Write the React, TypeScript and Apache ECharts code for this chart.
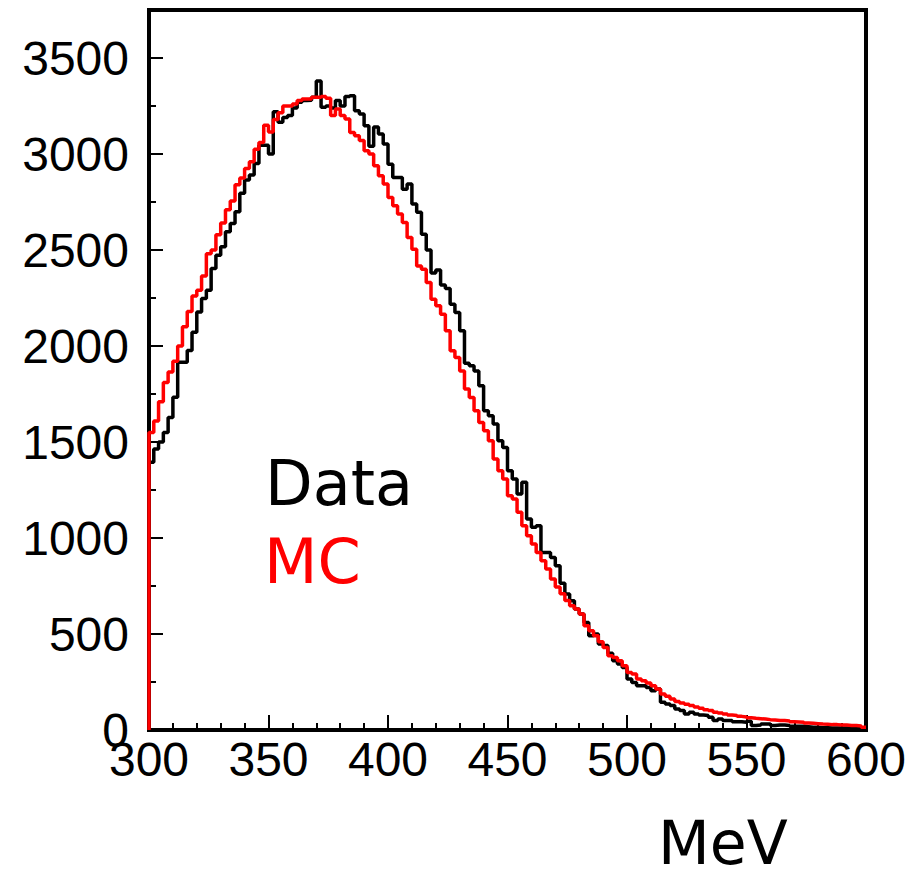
import React, { useEffect, useRef } from "react";
import * as echarts from "echarts";

// Histogram binning (MeV)
const BIN_START = 300;
const BIN_WIDTH = 2;

// Data (black) bin contents, 150 bins of 2 MeV from 300 to 600
const dataCounts = [
  1395, 1463, 1500, 1550, 1628, 1733, 1915, 1915, 1976, 2072,
  2177, 2247, 2290, 2403, 2473, 2517, 2595, 2638, 2699, 2795,
  2865, 2890, 2950, 3046, 3046, 3000, 3220, 3165, 3190, 3200,
  3240, 3270, 3278, 3280, 3295, 3380, 3243, 3250, 3240, 3278,
  3250, 3300, 3304, 3225, 3208, 3147, 3040, 3140, 3104, 3052,
  2947, 2878, 2878, 2817, 2844, 2739, 2696, 2582, 2500, 2380,
  2396, 2318, 2300, 2218, 2175, 2079, 1910, 1897, 1870, 1793,
  1663, 1637, 1594, 1507, 1472, 1350, 1307, 1229, 1290, 1099,
  1056, 1064, 925, 925, 899, 856, 764, 708, 673, 630,
  604, 560, 491, 500, 448, 440, 400, 361, 344, 326,
  266, 248, 231, 231, 222, 205, 214, 144, 136, 127,
  110, 101, 83, 92, 83, 78, 75, 66, 49, 57,
  49, 49, 43, 43, 40, 45, 23, 26, 31, 31,
  23, 26, 26, 23, 19, 19, 19, 17, 14, 14,
  12, 12, 11, 11, 10, 10, 9, 9, 8, 8,
];

// MC (red) bin contents
const mcCounts = [
  1550, 1610, 1710, 1810, 1865, 1920, 2000, 2100, 2180, 2260,
  2290, 2365, 2480, 2500, 2580, 2640, 2710, 2755, 2840, 2875,
  2925, 2960, 3025, 3060, 3150, 3115, 3180, 3215, 3250, 3250,
  3260, 3278, 3286, 3286, 3295, 3295, 3300, 3290, 3200, 3234,
  3200, 3182, 3112, 3095, 3070, 3017, 3000, 2939, 2887, 2844,
  2774, 2730, 2687, 2643, 2565, 2504, 2417, 2400, 2331, 2244,
  2210, 2166, 2079, 1975, 1940, 1870, 1776, 1732, 1663, 1602,
  1558, 1507, 1411, 1350, 1307, 1220, 1203, 1134, 1064, 1012,
  969, 925, 882, 839, 787, 745, 710, 675, 647, 630,
  604, 543, 517, 491, 460, 430, 387, 378, 361, 335,
  300, 292, 266, 257, 245, 231, 214, 188, 176, 162,
  148, 141, 134, 127, 120, 113, 106, 101, 92, 88,
  83, 78, 75, 71, 68, 64, 61, 59, 57, 54,
  52, 50, 49, 47, 43, 42, 40, 36, 35, 33,
  31, 30, 28, 28, 26, 26, 24, 23, 21, 14,
];

const legendLabels = ["Data", "MC"];
const unitLabel = "MeV";

function toSteps(counts: number[]): number[][] {
  const pts: number[][] = [[BIN_START, 0]];
  counts.forEach((v, i) => pts.push([BIN_START + i * BIN_WIDTH, v]));
  pts.push([BIN_START + counts.length * BIN_WIDTH, counts[counts.length - 1]]);
  return pts;
}

const labelFont = "Liberation Sans, Arial, Helvetica, sans-serif";

export default function App() {
  const ref = useRef<HTMLDivElement>(null);
  useEffect(() => {
    if (!ref.current) return;
    const chart = echarts.init(ref.current, null, { renderer: "svg" });
    chart.setOption({
      animation: false,
      backgroundColor: "#fff",
      grid: {
        left: 149,
        right: 51,
        top: 10,
        bottom: 144,
        show: true,
        borderColor: "#000",
        borderWidth: 4,
      },
      xAxis: {
        type: "value",
        min: 300,
        max: 600,
        interval: 50,
        axisLine: { show: true, lineStyle: { color: "#000", width: 4 } },
        axisTick: { show: true, inside: true, length: 15, lineStyle: { color: "#000", width: 2 } },
        minorTick: { show: true, splitNumber: 5, length: 7, lineStyle: { color: "#000", width: 2 } },
        splitLine: { show: false },
        axisLabel: { color: "#000", fontSize: 48, fontFamily: labelFont, margin: 5 },
      },
      yAxis: [
        {
          type: "value",
          min: 0,
          max: 3750,
          interval: 500,
          position: "left",
          axisLine: { show: true, lineStyle: { color: "#000", width: 4 } },
          axisTick: { show: true, inside: true, length: 14, lineStyle: { color: "#000", width: 2 } },
          splitLine: { show: false },
          axisLabel: {
            color: "#000",
            fontSize: 48,
            fontFamily: labelFont,
            margin: 20,
            showMaxLabel: false,
            formatter: (v: number) => (v % 500 === 0 ? String(v) : ""),
          },
        },
        {
          type: "value",
          min: 0,
          max: 3750,
          interval: 250,
          position: "left",
          axisLine: { show: false },
          axisTick: { show: true, inside: true, length: 7, lineStyle: { color: "#000", width: 2 } },
          splitLine: { show: false },
          axisLabel: { show: false },
        },
      ],
      series: [
        {
          name: legendLabels[0],
          type: "line",
          step: "end",
          showSymbol: false,
          symbol: "none",
          data: toSteps(dataCounts),
          lineStyle: { color: "#000", width: 3.5 },
          itemStyle: { color: "#000" },
          z: 2,
        },
        {
          name: legendLabels[1],
          type: "line",
          step: "end",
          showSymbol: false,
          symbol: "none",
          data: toSteps(mcCounts),
          lineStyle: { color: "#ff0000", width: 3.5 },
          itemStyle: { color: "#ff0000" },
          z: 3,
        },
      ],
      graphic: [
        {
          type: "text",
          x: 265,
          y: 483,
          style: { text: legendLabels[0], fill: "#000", fontSize: 62, lineHeight: 50, fontFamily: "DejaVu Sans", align: "left", verticalAlign: "middle" },
        },
        {
          type: "text",
          x: 264,
          y: 561,
          style: { text: legendLabels[1], fill: "#ff0000", fontSize: 62, lineHeight: 50, fontFamily: "DejaVu Sans", align: "left", verticalAlign: "middle" },
        },
        {
          type: "text",
          x: 658,
          y: 843,
          style: { text: unitLabel, fill: "#000", fontSize: 60, lineHeight: 48, fontFamily: "DejaVu Sans", align: "left", verticalAlign: "middle" },
        },
      ],
    });
    return () => chart.dispose();
  }, []);
  return <div ref={ref} style={{ position: "absolute", left: 0, top: 0, width: 917, height: 874 }} />;
}
